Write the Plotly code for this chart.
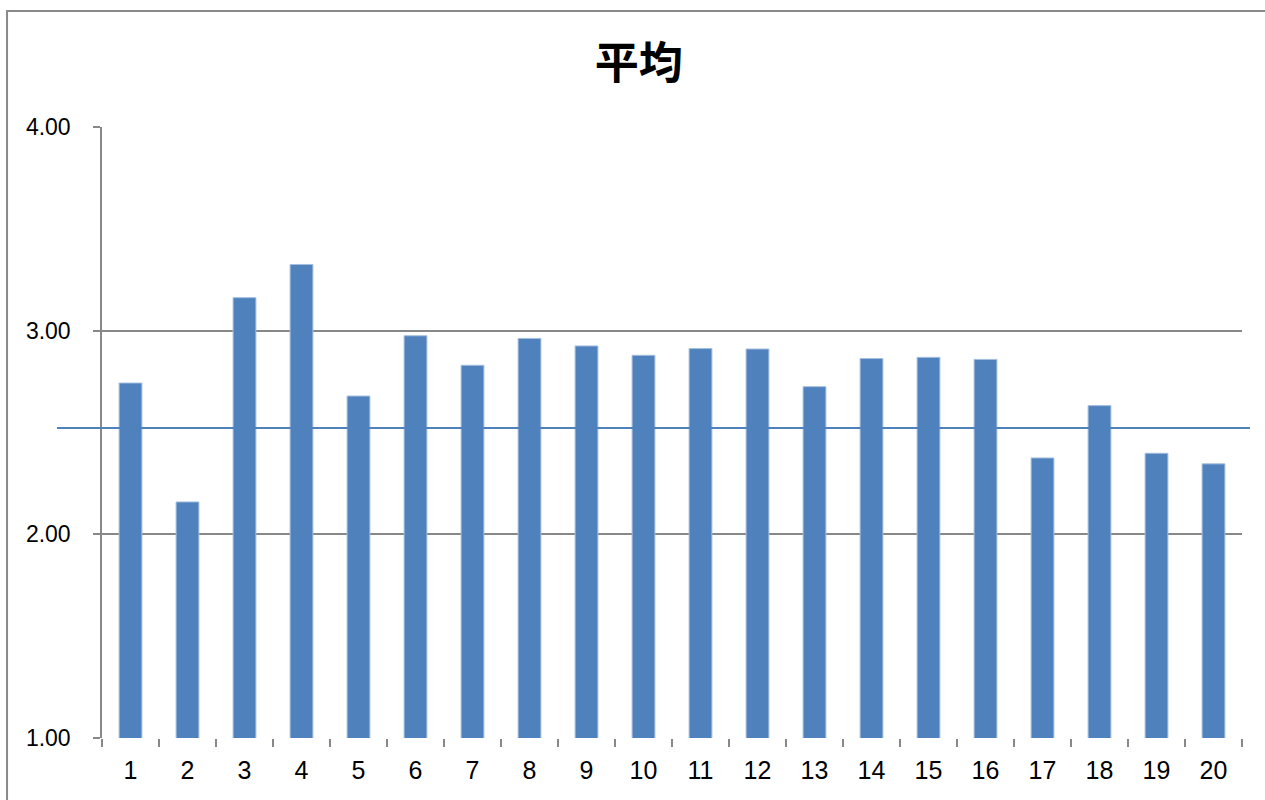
import plotly.graph_objects as go

categories = [str(i) for i in range(1, 21)]
values = [2.743, 2.159, 3.162, 3.325, 2.679, 2.975, 2.830, 2.962, 2.925, 2.879,
          2.912, 2.910, 2.725, 2.863, 2.869, 2.859, 2.375, 2.632, 2.398, 2.346]
reference_value = 2.522
y_min, y_max = 1.0, 4.0
title_text = "平均"

BLUE = "#4F81BD"
GRAY = "#888888"
FONT = "Liberation Sans, Open Sans, sans-serif"

fig = go.Figure()
fig.add_trace(go.Bar(
    x=categories, y=values,
    marker=dict(color=BLUE, line=dict(color="#A4BEDF", width=1)),
    hoverinfo="x+y",
))

ref_y = (reference_value - y_min) / (y_max - y_min)

fig.update_layout(
    width=1265, height=800,
    margin=dict(l=102, r=23, t=127, b=62),
    paper_bgcolor="white", plot_bgcolor="white",
    bargap=0.6,
    showlegend=False,
    title=dict(text=f"<b>{title_text}</b>", xref="container", x=0.505, xanchor="center",
               yref="container", y=0.921, yanchor="middle",
               font=dict(family="Noto Sans CJK JP", size=44, color="black")),
    xaxis=dict(type="category", tickson="boundaries", ticks="outside", ticklen=8,
               tickcolor=GRAY, tickwidth=1.5, showgrid=False, showline=False,
               tickfont=dict(family=FONT, size=25, color="black"),
               ticklabelstandoff=15, fixedrange=True),
    yaxis=dict(range=[y_min, y_max], dtick=1, tickformat=".2f", ticks="outside",
               ticklen=7, tickcolor=GRAY, tickwidth=1.5,
               showgrid=True, gridcolor=GRAY, gridwidth=1.5,
               showline=True, linecolor=GRAY, linewidth=1.5, zeroline=False,
               tickfont=dict(family=FONT, size=23, color="black"),
               ticklabelstandoff=18, fixedrange=True),
    shapes=[
        dict(type="line", xref="paper", yref="paper",
             x0=-0.0395, x1=1.007, y0=ref_y, y1=ref_y,
             line=dict(color=BLUE, width=2), layer="above"),
        dict(type="rect", xref="paper", yref="paper",
             x0=-0.0833, x1=1.1, y0=-0.3, y1=1.19,
             line=dict(color="#898989", width=2), layer="above"),
    ],
)

fig.write_html("out.html", config={"displayModeBar": False},
               post_script="document.body.style.margin='0';document.body.style.overflow='hidden';")
